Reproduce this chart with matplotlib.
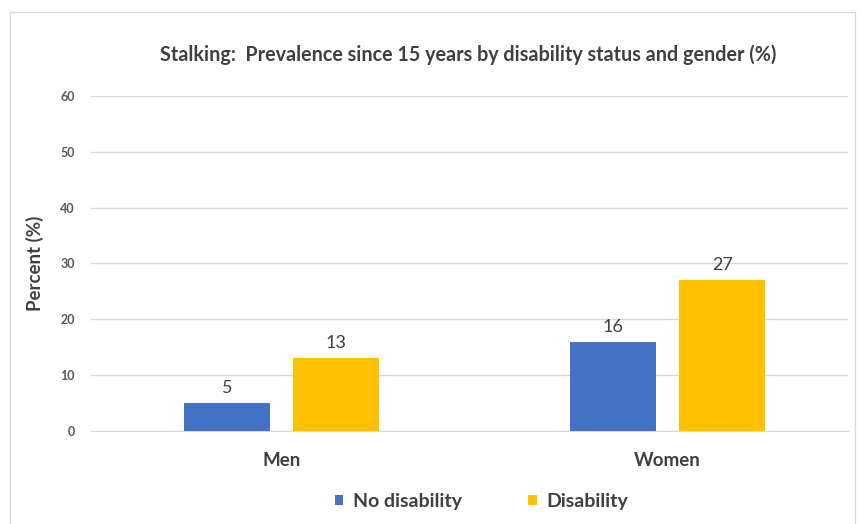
import matplotlib.pyplot as plt
import numpy as np
from matplotlib.patches import Rectangle

plt.rcParams["font.family"] = ["Lato", "DejaVu Sans"]

CATEGORIES = ["Men", "Women"]
SERIES_NAMES = ["No disability", "Disability"]
NO_DISABILITY = [5, 16]
DISABILITY = [13, 27]
COLORS = ["#4472C4", "#FFC000"]
Y_TICKS = [0, 10, 20, 30, 40, 50, 60]

TEXT = "#404040"
BAR_W = 0.223
OFFSET = 0.1416

fig = plt.figure(figsize=(8.63, 5.24), dpi=100)
fig.patches.append(Rectangle((10 / 863, -0.1), 845 / 863, 1.1 - 12 / 524,
                             transform=fig.transFigure, fill=False,
                             edgecolor="#d9d9d9", linewidth=1))
ax = fig.add_axes([0.106, 0.1775, 0.877, 0.6395])

x = np.arange(len(CATEGORIES))
for i, (vals, name, color) in enumerate(zip([NO_DISABILITY, DISABILITY], SERIES_NAMES, COLORS)):
    bars = ax.bar(x + (i - 0.5) * 2 * OFFSET, vals, BAR_W, color=color, label=name, zorder=3)
    ax.bar_label(bars, labels=[str(v) for v in vals], padding=5, fontsize=13, color=TEXT)

ax.set_xlim(-0.493, 1.468)
ax.set_ylim(0, 60)
ax.set_yticks(Y_TICKS)
ax.set_yticklabels([str(t) for t in Y_TICKS], fontsize=9, fontweight="bold", color="#595959")
ax.set_xticks(x)
ax.set_xticklabels(CATEGORIES, fontsize=13.5, fontweight="bold", color=TEXT)
ax.tick_params(length=0)
ax.tick_params(axis="y", pad=12)
ax.tick_params(axis="x", pad=15)
ax.yaxis.grid(True, color="#d9d9d9", linewidth=1, zorder=0)
ax.set_axisbelow(True)
for s in ["top", "right", "left"]:
    ax.spines[s].set_visible(False)
ax.spines["bottom"].set_color("#d9d9d9")

ax.set_ylabel("Percent (%)", fontsize=13.5, fontweight="bold", color=TEXT, labelpad=12)

fig.text(0.542, 0.895, "Stalking:  Prevalence since 15 years by disability status and gender (%)",
         ha="center", va="center", fontsize=14.2, fontweight="bold", color=TEXT)

leg = fig.legend(loc="center", bbox_to_anchor=(0.558, 0.043), ncol=2, frameon=False,
                 prop={"size": 14, "weight": "bold"}, handlelength=0.45, handleheight=0.45,
                 handletextpad=0.5, columnspacing=3.4)
for t in leg.get_texts():
    t.set_color(TEXT)

fig.savefig("out.png", dpi=100, facecolor="white")
